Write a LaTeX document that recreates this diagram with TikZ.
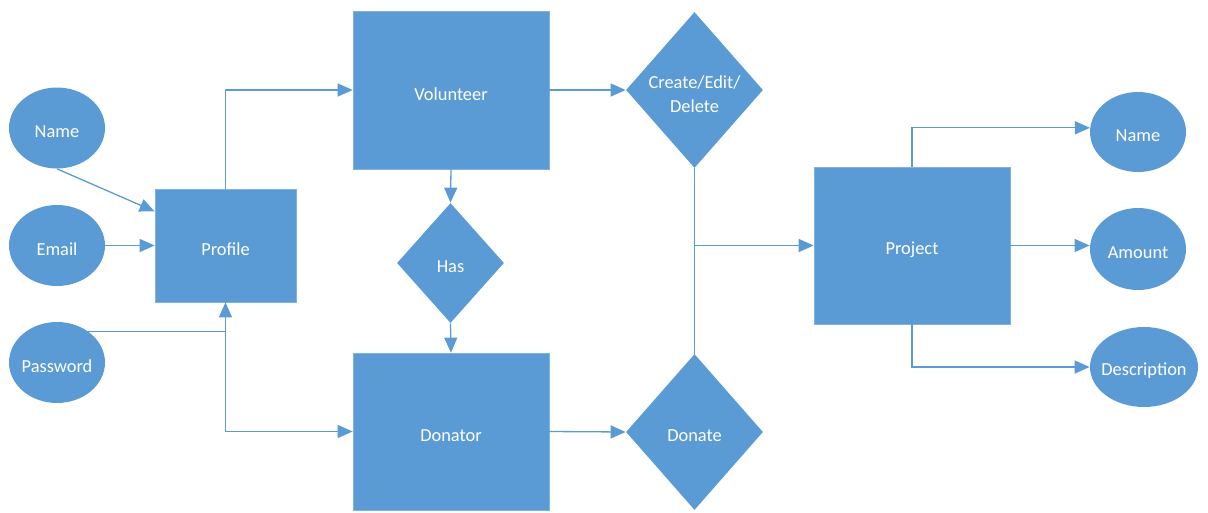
\documentclass[tikz,border=0pt]{standalone}
\usepackage{fontspec}
\setmainfont{Carlito}
\usetikzlibrary{arrows.meta,shapes.geometric,calc}
\definecolor{erblue}{HTML}{5B9BD5}
\definecolor{eredge}{HTML}{7EB2E0}
\tikzset{
  base/.style={fill=erblue, draw=eredge, line width=0.7pt, inner sep=0pt},
  caption/.style={text=white, inner sep=0pt, yshift=-4pt, align=center,
    font=\fontsize{18.4}{24}\selectfont},
  entity/.style={base, rectangle},
  relation/.style={base, diamond, draw=none, minimum width=137pt, minimum height=156pt},
  attrib/.style={base, ellipse, draw=none, minimum width=96pt, minimum height=81pt},
  link/.style={draw=erblue, line width=1.3pt},
  arr/.style={link, -{Triangle[length=15pt,width=13pt]}}
}
\begin{document}
\begin{tikzpicture}[x=1pt,y=-1pt]
\useasboundingbox (0,0) rectangle (1208,512);

% entities
\node[entity, minimum width=141pt, minimum height=113pt,
  label={[caption]center:Profile}] (profile) at (225.5,245.5) {};
\node[entity, minimum width=196pt, minimum height=158pt,
  label={[caption]center:Volunteer}] (volunteer) at (451,90) {};
\node[entity, minimum width=196pt, minimum height=157pt,
  label={[caption]center:Donator}] (donator) at (451,431.5) {};
\node[entity, minimum width=196pt, minimum height=157pt,
  label={[caption]center:Project}] (project) at (912,245.5) {};

% relationships
\node[relation, minimum width=107pt, minimum height=120pt,
  label={[caption]center:Has}] (has) at (450.5,263) {};
\node[relation, label={[caption]center:Create/Edit/\\Delete}] (ced) at (694.5,90) {};
\node[relation, label={[caption]center:Donate}] (donate) at (694.5,432) {};

% attributes
\node[attrib, label={[caption]center:Name}] (uname) at (57,128) {};
\node[attrib, label={[caption]center:Email}] (email) at (57,245.5) {};
\node[attrib, label={[caption]center:Password}] (password) at (57,362.5) {};
\node[attrib, minimum height=80pt, label={[caption]center:Name}] (pname) at (1138,132) {};
\node[attrib, minimum height=82pt, label={[caption]center:Amount}] (amount) at (1138,249) {};
\node[attrib, minimum width=108pt, minimum height=80pt,
  label={[caption]center:Description}] (desc) at (1144,367) {};

% profile attributes
\draw[arr] (uname.south) -- ($(profile.north west)!0.2!(profile.south west)$);
\draw[arr] (email.east) -- (profile.west);
\draw[arr] (password.45) -| (profile.south);

% profile to roles
\draw[arr] (profile.north) |- (volunteer.west);
\draw[arr] (profile.south) |- (donator.west);
\draw[arr] (volunteer.south) -- (has.north);
\draw[arr] (has.south) -- (donator.north);

% roles to actions
\draw[arr] (volunteer.east) -- (ced.west);
\draw[arr] (donator.east) -- (donate.west);
\coordinate (join) at (ced.south |- project.west);
\draw[link] (ced.south) -- (donate.north);
\draw[arr] (join) -- (project.west);

% project attributes
\draw[arr] (project.north) |- (pname.175);
\draw[arr] (project.east) -- (project.east -| amount.west);
\draw[arr] (project.south) |- (desc.west);
\end{tikzpicture}
\end{document}
